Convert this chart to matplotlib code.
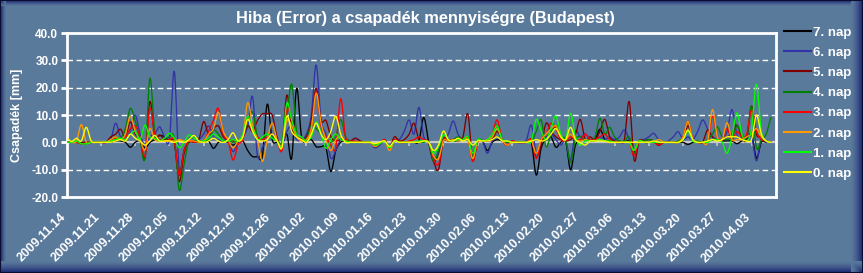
import numpy as np
import pandas as pd
import matplotlib
matplotlib.use("Agg")
import matplotlib.pyplot as plt
from matplotlib.patches import Rectangle
import matplotlib.colors as mcolors
from matplotlib.transforms import ScaledTranslation

# ---------------- data ----------------
start_date = "2009-11-14"
n_days = 145
series_names = ["7. nap", "6. nap", "5. nap", "4. nap", "3. nap", "2. nap", "1. nap", "0. nap"]
series_colors = ["#000000", "#3333a8", "#800000", "#008000", "#ff0000", "#ff9900", "#00ff00", "#ffff00"]

nap7 = [0, 0, 0, 0, 0, 0, 0, 0, 0, 0,
        0.5, 0.5, 0, -1.8, 0, 0.5, -2, 0, 1, 2.5,
        2, 0.5, 0, -12, -3, 0, 0, 0, 0, 0.5,
        -2.2, 0, 0.5, 0, -1, 0, 0.5, -3, -5.2, -5.2,
        -5, 14, 1, 0, -1, 3, -5.8, 19.8, 2, 0.5,
        1, -1.6, -1.6, -2, -10.7, -3, 0, 0.5, 0, 0,
        0, 0, 0, -1, -0.5, 0.5, -2, 0.5, 0, 0,
        0, 0, 0.5, 9.1, 0, -7, -4, 0.5, 0.5, 0.5,
        0.5, 1, 1, -4, 0.5, 0.5, -3, 0, 1, 0.5,
        0, 0, 0, 0, 0, 0, -12, -2, 1, 2,
        -1.8, 0, 0.5, -10, -1, 0.5, 1, 0.5, 1, 4.8,
        1, 0.5, 0, 0, 0, 0.5, -3.5, 0.5, 0, 0,
        0.5, -1, 0, 0, 0, 0, 0, -0.8, 0, 0,
        0, 0.5, 1, 1, 0.5, 0.5, 0.5, -0.5, 0.5, 1,
        3, -5.8, 0, 0, 0]
nap6 = [0, 0, 0, 0, 0, 0, 0, 0, 0, 1,
        7, 2, 1, 4, 10, 3, -1, 2, 3, 5.7,
        2, 1, 26, -10, -3, 0, 0.5, 1, 3, 6,
        2, 1, 0.5, 1, -3.4, 0, 2, 6, 16.7, -5,
        -2, 1, 2, 1, -1, 4, 6, 1, 1, 3,
        10, 28.3, 8, 3, -5.8, -3, 1, 0.5, 0.5, 1.5,
        0.5, 0, 0, -2, -1, 0.5, -2, 0.5, 1, 4,
        8.2, 3, 12.8, 2, 0, -6, -4, 0.5, 3, 7.8,
        3, 1, 1.5, -4, 0.5, 0.5, -4, 0.5, 2, 0.5,
        0, 0, 0, 0, 1, 6.3, -4, 0.5, 2, 3,
        1, -1, 0.5, -6.5, 3.9, 2, 3, 1, 1, 2,
        1, 2, 1, 2, 4.5, 1, -5, 0.5, 1, 2,
        3.3, 1, 0, 0.5, 2, 3.9, 1, 2, 1, 4,
        8.2, 5, 2, 1, 1, 4, 12, 3, 1, 1,
        2, -6.8, 1, 0, 0]
nap5 = [0, 0, 0, 0, 0, 0, 0, 0, 0, 2,
        3, 4.8, 2, 7.5, 3, 1, -5.8, 14.9, 2, 2.7,
        1, 0.5, 0, -14.4, -4, 0, 0.5, 1, 7.6, 3,
        5, 6, 2, 1, 0.5, 0.5, 2, 6, 4, 8,
        10.4, 10.4, 10, 2, -1, 17.3, 5, 2, 1, 2,
        8, 19.8, 8, 8, 2, 0.5, 1, 1, 0.5, 1.5,
        0.5, 0, 0, -1, -0.5, 1, -2, 2, 0.5, 1,
        3, 7, 1, 0.5, 0, -7, -10, 1, 1, 1,
        1, 2, 10.4, -6.5, 0.5, 0.5, 0.5, 1, 4, 1,
        -1, 0.5, 0, 0, 0, 1, -5.5, -1, 7, 4,
        2, 1, 0.5, 1, 3, 8.4, 1, 2, 1, 4,
        8.4, 2, 0.5, 0.5, 1, 14.9, -6.5, 0.5, 0.5, 1,
        0.5, -1, 0, 0, 0, 0, 1, 6, 1, 0,
        0, 4.5, 2, 1, 1, 2, 3, 6.3, 2, 1,
        13.3, 3, 2, 0.5, 0]
nap4 = [0, 0, 0, -0.5, -0.5, 0, 0, 0, 0, 1,
        2, 1.5, 5, 12.4, 8, 1, -5.8, 23.4, 4, 1,
        0.5, 2, 1.5, -17.4, -8, 1, 1.5, 0.5, 0, 1,
        4.5, 3, 0.5, 0.5, 0, 0.5, 2, 8, 11, 2,
        1, 3, 2, 0.5, 0, 10, 21.3, 4, 1, 1,
        6.3, 5, 3, 1, 0, 2, 8.4, 2, 0.5, 0,
        0, 0, 0, -1.5, -0.5, 0.5, -2.5, 0.5, 0, 0,
        0, 0, 0, 0, 0, -7, -3, 1, 0.5, 1,
        2, 1, 2, -5.5, 1, 0.5, 1, 2, 6.3, 1,
        0, 0, 0, 0, 0, 0.5, 4, 8.2, -1.6, 3,
        6, 2, 1, -7.5, 1, 2, 1, 1, 2, 8.8,
        3, 5.5, 2, 0.5, 0.5, 2, -4, 0.5, 0.5, 1,
        0.5, -0.5, 0, 0, 0, 0.5, 2, 7.6, 1, 0.5,
        0, 1, 3, 5.7, 2, 1, 2, 6, 3, 2,
        13.3, -2, 1, 3, 9]
nap3 = [0, 0, 0, -0.5, -0.3, 0, 0, 0, 0, 1,
        1.5, 1, 2, 5, 6, 2, -5, 12.4, 3, 1,
        0.5, 1, 0.5, -12, -3, 0.5, 0, 0.5, 0.5, 4,
        8, 12.4, 3, 0.5, -6.5, -1, 1, 8.8, 4, 2,
        1, 2, 3, 0.5, -3, 12.4, 8, 3, 1, 0.5,
        5, 18.5, 6, 2, -1, -2, 16, 2, 0.5, 0.5,
        0, 0, 0, -1.5, -0.5, 1, -2.5, 1, 0, 0,
        0.5, 1, 2, 1, 0, -6, -8, 1, 0.5, 1,
        1, 1, 1.5, -7, 0, 0.5, 1, 3, 8.2, 1,
        -1, 0.5, 0, 0, 0, 1, -6, 1, 3, 7,
        5, 1, 0.5, 2, 1, 1, 3, 1, 1, 2,
        3, 1, 0, 0, 0, 0, -5, 0.5, 0, 0,
        0, -1, 0, 0, 0, 0, 2, 7.6, 1, 0,
        0, 0, 9.6, 2, 1, 5, 1, 4, 2, 3,
        11.8, 4, 1, 0.5, 0]
nap2 = [0, 0, 0.5, 6.5, 0, 0, 0, 0, 0, 1,
        2, 1, 3, 9.6, 4, 1, -2.8, 5, 1, 0.5,
        0.5, 0.5, 0.5, 1, 0.5, 0.5, 0.5, 0, 0.5, 3,
        5, 11, 4, 1, -2, 0.5, 2, 14.5, 6, 1,
        -7, 1, 7, 1, -1, 8, 6, 2, 0.5, 1,
        5, 18, 7, 1, -3, 1, 2, 0.5, 0, 0,
        0, 0, 0, -1.5, -0.5, 0.5, -3, 0.5, 0, 0,
        0, 0, 0, 0.5, 0, -5, -6, 0.5, 0.5, 1,
        0.5, 1, 1, -6, 0.5, 0.5, 1, 2, 5, 1,
        -1, 0, 0, 0, 0, 0.5, -4, 1, 3, 5,
        6, 2, 1, 3, 1, 0.5, 1, 0.5, 0.5, 1,
        0.5, 0, 0, 0, 0, 0, -3, 0.5, 0, 0,
        0, 1, 0, 0, 0, 0, 2, 7.6, 1, 0,
        0, 0, 12, 2, 1, 7.2, 1, 1, 1, 2,
        3, 5, 2, 0.5, 0]
nap1 = [0, 0, 0.5, -0.5, -0.5, 0, 0, 0, 0, 0.5,
        1, 1.5, 1, 3, 4, 1, 6.3, 2, 1.5, 0.5,
        1.5, 3.3, 1.5, -2, 0, 2.7, 1.5, 0.5, 0.5, 1.5,
        3, 2, 0.5, 0.5, 1, 0.5, 3, 9.4, 5, 1,
        2, 3, 1.5, 0.5, -1, 14.3, 8, 3, 2, 0.5,
        2, 7.5, 3, -2.2, 1, 3, 1, 0.5, 0, 0,
        0, 0, 0, -1, -0.5, 0.5, -2, 0.5, 0, 0,
        0, 0, 0.5, 0.5, 0, -4, -1.5, 2.7, 1, 0.5,
        1, 1, 2, -4, 1, 0.5, 1, 3, 6, 1,
        0.5, 0, 0, 0, 0, 0.5, 8.4, 4, 1, 5,
        9.6, 3, 1, 10.6, 2, -1, 0.5, 0.5, 0.5, 1,
        0.5, 0.5, 0, 0, 0, 0, -3, 0.5, 0, 0,
        0, 0, 0, 0, 0, 0, 1, 4, 0.5, 0,
        0, 0, 1, 1, 0, -4, 2, 10.8, 3, 0.5,
        5, 21.3, 4, 0.5, 0]
nap0 = [1.5, 0.3, 1.5, 0.5, 5.5, 0.5, 0, 0, 0, 0,
        0.5, 1, 0.5, 3, 1.5, 0.5, -1, 0.5, 2.5, 0.5,
        0.5, 0.5, 0, 0.5, 0, 1, 2.5, 0.5, 0, 0.5,
        1.5, 0.5, 0, 1, 3.5, 0.5, 2, 8.4, 4, 1,
        0.5, 1, 3, 0.5, -2, 9.6, 4, 2, 1, 0,
        3, 7, 3, 1, 4, 9.6, 3, 0, 0, 0,
        0, 0, 0, -0.5, 0, 0.5, -1.5, 0.5, 0, 0,
        0, 0, 0, 0.5, 0, -3, -1, 4.1, 1, 0.5,
        1.5, 0.5, 1, -1, 0.5, 0.5, 0.5, 1, 2, 0.5,
        0.5, 0, 0, 0, 0, 0.5, 1, 0.5, 1, 3,
        5, 2, 1, 5.5, 1, 0, -1, 0.5, 0.5, 0.5,
        0.5, 0, 0, 0, 0, 0, 0, 0, 0, 0,
        0.5, 0, 0, 0, 0, 0, 1, 4.5, 1, 0,
        0, 0.5, 1, 0.5, 1, 2, 2, 2, 1, 0.5,
        1, 10, 3, 0.5, 0]
series_values = [nap7, nap6, nap5, nap4, nap3, nap2, nap1, nap0]

# ---------------- helpers ----------------
def smooth(x, y, sub=10):
    x = np.asarray(x, float)
    y = np.asarray(y, float)
    yp = np.concatenate([[y[0]], y, [y[-1]]])
    xs, ys = [], []
    t = np.linspace(0, 1, sub, endpoint=False)
    for i in range(len(y) - 1):
        p0, p1, p2, p3 = yp[i], yp[i + 1], yp[i + 2], yp[i + 3]
        yy = 0.5 * (2 * p1 + (-p0 + p2) * t + (2 * p0 - 5 * p1 + 4 * p2 - p3) * t ** 2
                    + (-p0 + 3 * p1 - 3 * p2 + p3) * t ** 3)
        xs.append(x[i] + (x[i + 1] - x[i]) * t)
        ys.append(yy)
    xs.append([x[-1]])
    ys.append([y[-1]])
    return np.concatenate(xs), np.concatenate(ys)

# ---------------- figure ----------------
W, H = 863, 273
BG = "#5a7a9b"
fig = plt.figure(figsize=(W / 100, H / 100), dpi=100, facecolor=BG)
plt.rcParams["font.family"] = ["Liberation Sans", "DejaVu Sans"]

bg_rgb = np.array(mcolors.to_rgb(BG))
navy = np.array(mcolors.to_rgb("#1a2672"))

def band(x0, y0, w, h, c):
    fig.patches.append(Rectangle((x0 / W, y0 / H), w / W, h / H, transform=fig.transFigure,
                                 facecolor=c, edgecolor="none", zorder=-10))

# bevel border (left/top thin, right/bottom wide)
for i in range(6):
    f = (1 - i / 6) ** 1.5
    c = bg_rgb * (1 - f) + navy * f
    band(i, 0, 1, H, c)
    band(0, H - 1 - i, W, 1, c)
for i in range(12):
    f = (1 - i / 12) ** 1.5
    c = bg_rgb * (1 - f) + navy * f
    band(W - 1 - i, 0, 1, H, c)
    band(0, i, W, 1, c)
fig.patches.append(Rectangle((0, 0), 1, 1, transform=fig.transFigure, facecolor="none",
                             edgecolor="#0a0c30", lw=1.5, zorder=-9))

ax = fig.add_axes([66.7 / W, 1 - 197 / H, (776 - 66.7) / W, (197 - 33) / H])
ax.patch.set_visible(False)

dates = pd.date_range(start_date, periods=n_days, freq="D")
x = np.arange(n_days)

ax.set_xlim(0, 145)
ax.set_ylim(-20, 40)

# grid
for gy in [-10, 10, 20, 30]:
    ax.axhline(gy, color="white", lw=1.0, ls=(0, (4, 2.5)), zorder=1)
# zero axis with week ticks
ax.axhline(0, color="#c8c8c8", lw=1.6, zorder=2)
week_pos = x[::7]
ax.vlines(week_pos, -1.5, 0, color="#c8c8c8", lw=1.2, zorder=2)

for name, vals, col in zip(series_names, series_values, series_colors):
    sx, sy = smooth(x, vals)
    ax.plot(sx, sy, color=col, lw=0.95, label=name, zorder=3, solid_joinstyle="round")

for s in ax.spines.values():
    s.set_color("white")
    s.set_linewidth(2)

ax.set_yticks([-20, -10, 0, 10, 20, 30, 40])
ax.set_yticklabels([f"{v:.1f}" for v in [-20, -10, 0, 10, 20, 30, 40]])
ax.tick_params(axis="y", colors="white", length=4, width=2, pad=2, labelsize=8.5)
for lab in ax.get_yticklabels():
    lab.set_fontweight("bold")

ax.set_xticks(week_pos)
ax.set_xticklabels([d.strftime("%Y.%m.%d") for d in dates[::7]])
ax.tick_params(axis="x", length=0, pad=13, labelsize=9.2, colors="white")
offset = ScaledTranslation(-3 / 100, 0, fig.dpi_scale_trans)
for lab in ax.get_xticklabels():
    lab.set_rotation(45)
    lab.set_ha("right")
    lab.set_va("center")
    lab.set_rotation_mode("anchor")
    lab.set_fontweight("bold")
    lab.set_transform(lab.get_transform() + offset)

fig.text(425 / W, 1 - 19 / H, "Hiba (Error) a csapadék mennyiségre (Budapest)",
         ha="center", va="center", color="white", fontsize=11.8, fontweight="bold")
fig.text(17 / W, 1 - 115 / H, "Csapadék [mm]", rotation=90, ha="center", va="center",
         color="white", fontsize=9, fontweight="bold")

leg = fig.legend(loc="upper left", bbox_to_anchor=(784 / W, 1 - 26.5 / H), frameon=False,
                 fontsize=9.5, handlelength=2.05, handletextpad=0.15, labelspacing=0.6,
                 borderpad=0, borderaxespad=0)
for t in leg.get_texts():
    t.set_color("white")
    t.set_fontweight("bold")
for l in leg.get_lines():
    l.set_linewidth(1.5)

fig.savefig("out.png", dpi=100, facecolor=BG)
